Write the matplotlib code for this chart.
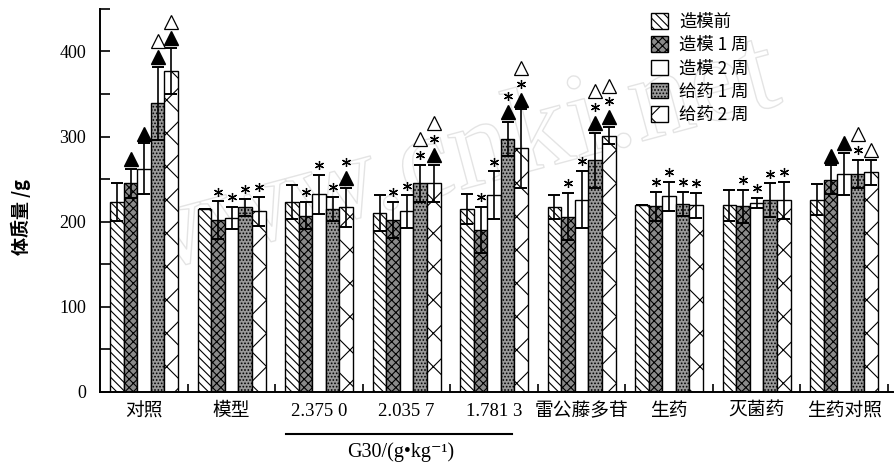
import matplotlib
matplotlib.use('Agg')
import matplotlib.pyplot as plt
import matplotlib.patheffects as pe
from matplotlib.patches import Patch
from matplotlib.transforms import ScaledTranslation, blended_transform_factory
import numpy as np

plt.rcParams['font.family'] = ['Liberation Serif', 'Noto Sans CJK SC', 'DejaVu Sans']
plt.rcParams['hatch.linewidth'] = 0.8

# groups on the x axis
groups = ['对照', '模型', '2.375 0', '2.035 7', '1.781 3', '雷公藤多苷', '生药', '灭菌药', '生药对照']
series = ['造模前', '造模 1 周', '造模 2 周', '给药 1 周', '给药 2 周']

# body mass (g), mean and sd
before = [223, 215, 223, 210, 215, 217, 220, 219, 226]
before_sd = [22, 0, 20, 21, 18, 14, 0, 18, 18]
wk1 = [245, 202, 207, 202, 190, 206, 218, 218, 249]
wk1_sd = [17, 22, 16, 21, 27, 28, 17, 19, 17]
wk2 = [262, 204, 232, 212, 231, 226, 230, 222, 256]
wk2_sd = [30, 13, 23, 19, 28, 34, 17, 6, 25]
drug1 = [339, 217, 215, 245, 297, 272, 221, 225, 256]
drug1_sd = [43, 10, 14, 22, 20, 32, 14, 20, 17]
drug2 = [377, 212, 217, 245, 286, 301, 219, 225, 258]
drug2_sd = [27, 17, 23, 22, 46, 10, 15, 22, 15]

# significance marks stacked above each bar (bottom first)
before_mk = ['', '', '', '', '', '', '', '', '']
wk1_mk = ['▲', '*', '*', '*', '*', '*', '*', '*', '▲']
wk2_mk = ['▲', '*', '*', '*', '*', '*', '*', '*', '▲']
drug1_mk = ['▲△', '*', '*', '*△', '▲*', '▲*△', '*', '*', '*△']
drug2_mk = ['▲△', '*', '▲*', '▲*△', '▲*△', '▲*△', '*', '*', '△']

values = [before, wk1, wk2, drug1, drug2]
sds = [before_sd, wk1_sd, wk2_sd, drug1_sd, drug2_sd]
marks = [before_mk, wk1_mk, wk2_mk, drug1_mk, drug2_mk]

# bar styles: facecolor, hatch
styles = [('white', '\\\\\\\\'),
          ('#8a8a8a', 'xxxx'),
          ('white', ''),
          ('#9a9a9a', '.....'),
          ('white', 'x')]

fig = plt.figure(figsize=(8.94, 4.66), dpi=100)
ax = fig.add_axes([0.112, 0.159, 0.887, 0.822])

# faint watermark (outline only, behind the bars)
ax.text(0.44, 0.6, 'www.cnki.net', rotation=15, fontsize=88,
        family='Liberation Serif', color='none', ha='center', va='center',
        transform=ax.transAxes, zorder=0.5, clip_on=False,
        path_effects=[pe.Stroke(linewidth=1.0, foreground='#e4e4e4')])

x = np.arange(len(groups))
w = 0.155
for j in range(5):
    xs = x + (j - 2) * w
    fc, hatch = styles[j]
    ax.bar(xs, values[j], width=w, facecolor=fc, edgecolor='black', hatch=hatch,
           linewidth=1.0, zorder=2)
    ax.errorbar(xs, values[j], yerr=sds[j], fmt='none', ecolor='black',
                elinewidth=1.2, capsize=4, capthick=1.4, zorder=3)
    # marks
    for i in range(len(groups)):
        top = values[j][i] + sds[j][i]
        off = 7.0
        for s in marks[j][i]:
            tr = ax.transData + ScaledTranslation(0, off / 72, fig.dpi_scale_trans)
            if s == '▲':
                ax.plot(xs[i], top, marker='^', ms=9.5, mfc='black', mec='black',
                        transform=tr, clip_on=False, zorder=4)
            elif s == '△':
                ax.plot(xs[i], top, marker='^', ms=10, mfc='white', mec='black',
                        mew=0.9, transform=tr, clip_on=False, zorder=4)
            else:
                ax.plot(xs[i], top, marker=(6, 2, 0), ms=6.5, mec='black',
                        mew=0.9, transform=tr, clip_on=False, zorder=4)
            off += 11.5

ax.set_xlim(-0.503, 8.56)
ax.set_ylim(0, 450)
ax.spines['top'].set_visible(False)
ax.spines['right'].set_visible(False)
ax.spines['left'].set_linewidth(1.4)
ax.spines['bottom'].set_linewidth(1.4)

ax.set_yticks([0, 100, 200, 300, 400])
ax.set_yticks(np.arange(50, 451, 100), minor=True)
ax.tick_params(axis='y', which='both', direction='in', length=7, width=1.2,
               labelsize=13, pad=10)
ax.set_xticks(x)
ax.set_xticklabels(groups, fontsize=13.5)
ax.set_xticks(x + 0.5, minor=True)
ax.tick_params(axis='x', which='major', length=0, pad=8)
ax.tick_params(axis='x', which='minor', direction='in', length=6, width=1.2)

ax.text(-0.1, 0.457, '体质量 /g', rotation=90, transform=ax.transAxes,
        ha='center', va='center', fontsize=13, fontweight='bold',
        family=['Noto Sans CJK SC', 'DejaVu Sans'])

# G30 dose bracket
trb = blended_transform_factory(ax.transData, ax.transAxes)
ax.plot([1.62, 4.2], [-0.11, -0.11], color='black', lw=1.5, transform=trb, clip_on=False)
ax.text(2.93, -0.157, 'G30/(g•kg⁻¹)', transform=trb, ha='center', va='center',
        fontsize=14.5, family=['Liberation Serif', 'DejaVu Serif'])

handles = [Patch(facecolor=styles[j][0], edgecolor='black', hatch=styles[j][1],
                 label=series[j]) for j in range(5)]
leg = ax.legend(handles=handles, loc='upper left', bbox_to_anchor=(0.675, 1.03),
                frameon=False, handlelength=1.0, handleheight=1.0, handletextpad=0.6,
                labelspacing=0.3, prop={'family': ['Noto Sans CJK SC', 'DejaVu Sans'], 'size': 12.5})
leg.set_zorder(5)

fig.savefig('out.png', dpi=100)
